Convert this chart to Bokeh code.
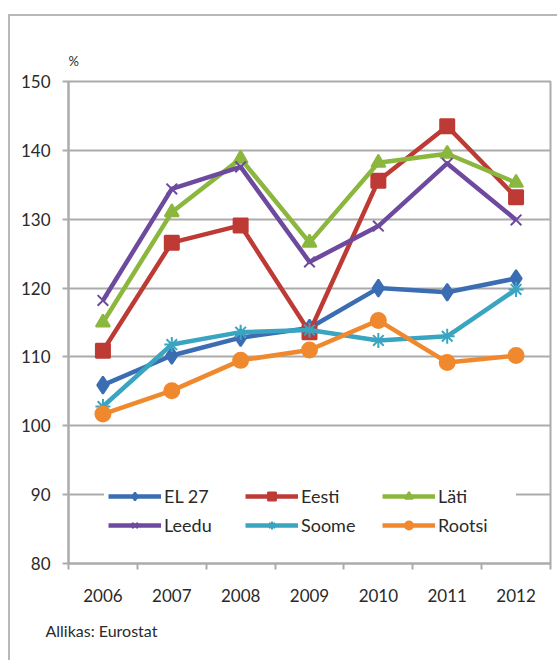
from bokeh.plotting import figure
from bokeh.models import FixedTicker, Legend, LegendItem, Title, Range1d
from bokeh.embed import file_html
from bokeh.resources import INLINE

# ---- data ----
years = [2006, 2007, 2008, 2009, 2010, 2011, 2012]
year_labels = ["2006", "2007", "2008", "2009", "2010", "2011", "2012"]
y_ticks = [80, 90, 100, 110, 120, 130, 140, 150]

el27 = [105.9, 110.2, 112.8, 114.2, 120.0, 119.4, 121.4]
eesti = [110.9, 126.6, 129.1, 113.6, 135.6, 143.5, 133.2]
lati = [115.0, 131.0, 138.8, 126.6, 138.2, 139.5, 135.3]
leedu = [118.2, 134.4, 137.6, 123.8, 129.0, 138.1, 129.9]
soome = [102.8, 111.8, 113.6, 113.9, 112.4, 113.0, 119.8]
rootsi = [101.7, 105.1, 109.5, 111.0, 115.3, 109.2, 110.2]

series_names = ["EL 27", "Eesti", "Läti", "Leedu", "Soome", "Rootsi"]
series_values = [el27, eesti, lati, leedu, soome, rootsi]
series_colors = ["#3b6db3", "#be3a34", "#8bb73e", "#6d4a9e", "#3aa5c0", "#f0892e"]
series_markers = ["diamond", "square", "triangle", "x", "asterisk", "circle"]
series_sizes = [17, 14, 14, 15, 15, 15]

unit_text = "%"
source_text = "Allikas: Eurostat"

FONT = "Lato"
GRID = "#ababab"
TXT = "#2a2a2a"

p = figure(width=549, height=646, output_backend="svg", toolbar_location=None,
           x_range=Range1d(2005.5, 2012.5), y_range=Range1d(80, 150),
           min_border_left=58, min_border_right=9, min_border_top=65, min_border_bottom=99)
p.styles = {"border-left": "2px solid #b8b8b8", "border-top": "2px solid #b8b8b8",
            "margin-left": "8px", "margin-top": "14px"}
p.background_fill_color = "white"
p.border_fill_color = "white"
p.outline_line_color = GRID
p.outline_line_width = 2

# axes
p.xaxis.ticker = FixedTicker(ticks=years, minor_ticks=[2005.5 + i for i in range(8)])
p.xaxis.major_label_overrides = {yr: lab for yr, lab in zip(years, year_labels)}
p.xaxis.major_tick_out = 0
p.xaxis.major_tick_in = 0
p.xaxis.minor_tick_out = 6
p.xaxis.minor_tick_in = 0
p.xaxis.minor_tick_line_color = GRID
p.xaxis.minor_tick_line_width = 2
p.xaxis.axis_line_color = GRID
p.xaxis.axis_line_width = 2
p.xaxis.major_label_standoff = 19
p.xaxis.major_label_text_font = FONT
p.xaxis.major_label_text_font_size = "17px"
p.xaxis.major_label_text_color = TXT

p.yaxis.ticker = FixedTicker(ticks=y_ticks, minor_ticks=[])
p.yaxis.major_tick_out = 6
p.yaxis.major_tick_in = 0
p.yaxis.major_tick_line_color = GRID
p.yaxis.major_tick_line_width = 2
p.yaxis.axis_line_color = GRID
p.yaxis.axis_line_width = 2
p.yaxis.major_label_standoff = 12
p.yaxis.major_label_text_font = FONT
p.yaxis.major_label_text_font_size = "17px"
p.yaxis.major_label_text_color = TXT

p.xgrid.visible = False
p.ygrid.ticker = FixedTicker(ticks=y_ticks)
p.ygrid.grid_line_color = GRID
p.ygrid.grid_line_width = 2

items = []
for name, vals, col, mk, sz in zip(series_names, series_values, series_colors,
                                   series_markers, series_sizes):
    r1 = p.line(years, vals, line_color=col, line_width=4.5, line_join="round")
    r2 = p.scatter(years, vals, marker=mk, size=sz, fill_color=col, line_color=col,
                   line_width=2)
    items.append(LegendItem(label=name, renderers=[r1, r2]))

legend = Legend(items=items, orientation="horizontal", ncols=3, location=(36, 23),
                label_text_font=FONT, label_text_font_size="18px",
                label_text_color=TXT,
                glyph_width=53, glyph_height=20, label_height=20, label_width=74,
                label_standoff=3, spacing=7, padding=4,
                background_fill_color="white", background_fill_alpha=1,
                border_line_alpha=0)
p.add_layout(legend)

p.add_layout(Title(text=unit_text, align="left", offset=0, standoff=25,
                   text_font=FONT, text_font_size="13px", text_font_style="normal",
                   text_color=TXT), "above")
p.add_layout(Title(text=source_text, align="left", offset=-23, standoff=28,
                   text_font=FONT, text_font_size="16px", text_font_style="normal",
                   text_color=TXT), "below")

open("out.html", "w").write(file_html(p, INLINE))
